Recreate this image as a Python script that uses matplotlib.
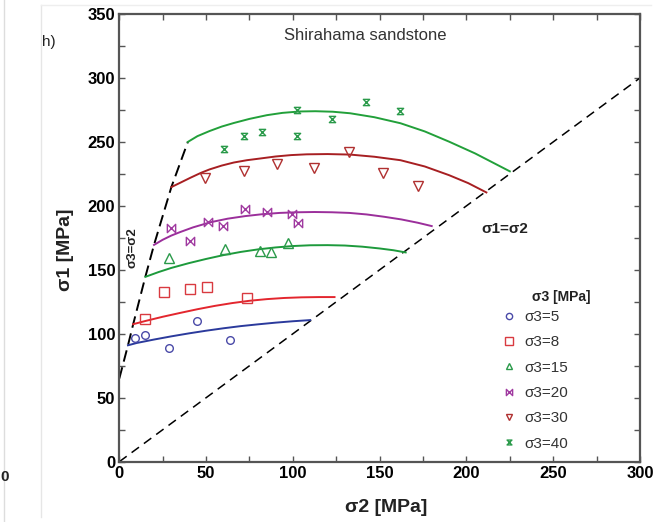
import matplotlib
matplotlib.use("Agg")
import matplotlib.pyplot as plt
from matplotlib.lines import Line2D
from matplotlib.path import Path

plt.rcParams['font.family'] = ['Liberation Sans', 'DejaVu Sans']

# ---------------- data ----------------
sigma3_labels = ["σ3=5", "σ3=8", "σ3=15", "σ3=20", "σ3=30", "σ3=40"]

# measured points (sigma2, sigma1)
pts5_x = [9.0, 14.8, 28.8, 44.8, 63.6]
pts5_y = [96.6, 98.8, 88.6, 109.9, 94.8]
pts8_x = [14.9, 25.9, 40.7, 50.7, 73.6]
pts8_y = [111.2, 132.3, 135.2, 136.5, 127.6]
pts15_x = [28.8, 60.9, 81.1, 87.2, 97.1]
pts15_y = [159.1, 166.2, 164.8, 163.6, 170.6]
pts20_x = [29.8, 40.7, 50.9, 60.0, 72.2, 85.1, 99.7, 103.2]
pts20_y = [182.8, 172.4, 187.3, 184.4, 197.7, 195.1, 193.5, 186.5]
pts30_x = [49.1, 71.9, 90.9, 112.0, 132.2, 151.8, 171.9]
pts30_y = [221.9, 227.1, 232.8, 229.7, 242.2, 225.8, 215.4]
pts40_x = [60.1, 71.9, 82.2, 102.4, 102.4, 122.8, 142.0, 161.8]
pts40_y = [244.3, 254.7, 257.6, 255.0, 274.8, 267.6, 281.0, 274.2]

# fitted curves (sigma2, sigma1)
c5_x = [5, 10, 20, 30, 40, 50, 60, 70, 80, 90, 100, 110]
c5_y = [91, 92.8, 95.5, 98, 100.3, 102.4, 104.3, 106, 107.4, 108.7, 109.8, 110.7]
c8_x = [8, 15, 25, 35, 45, 55, 65, 75, 85, 95, 105, 115, 124]
c8_y = [107.5, 110, 113.3, 116.3, 119.2, 121.8, 124, 125.8, 127.1, 128, 128.5, 128.7, 128.7]
c15_x = [15, 22.5, 30, 40, 50, 60, 70, 80, 90, 100, 110, 120, 130, 140, 150, 158, 165]
c15_y = [144.5, 148.2, 151.5, 155.2, 158.5, 161.5, 164, 166, 167.5, 168.6, 169.2, 169.3,
         169, 168.1, 166.7, 165.3, 163.6]
c20_x = [20, 25, 30, 35, 42.5, 52.5, 62.5, 72.5, 82.5, 92.5, 102.5, 112.5, 122.5,
         132.5, 142.5, 152.5, 162.5, 172, 180]
c20_y = [169.5, 173.5, 176.8, 179.5, 183.2, 187.2, 190, 192, 193.5, 194.5, 195, 195.2,
         195, 194.5, 193.3, 191.5, 189.4, 186.8, 184.2]
c30_x = [30, 35, 41, 47, 52, 59, 66, 73.5, 81, 90, 99, 108, 120, 133, 147, 162, 176,
         190, 201, 211.5]
c30_y = [214.7, 218, 222, 225.8, 228.5, 231.5, 233.9, 235.7, 237, 238.6, 239.7, 240.3,
         240.5, 240.1, 238.4, 235.7, 230.8, 224, 217.8, 210.5]
c40_x = [39.5, 45, 52, 59, 66, 75, 85, 94, 104, 113, 123, 133, 147, 162, 176, 190,
         205, 215, 225]
c40_y = [250, 254.5, 258.5, 262, 264.8, 268, 270.9, 272.7, 273.8, 274, 273.6, 272.4,
         269.3, 264.6, 258.2, 250.2, 241, 234, 227]

# sigma3 = sigma2 boundary
s32_x = [0, 5, 8, 15, 20, 30, 39.5]
s32_y = [65, 91, 107.5, 144.5, 169.5, 214.7, 250]
# sigma1 = sigma2 boundary
s12_x = [0, 300]
s12_y = [0, 300]

# ---------------- styling ----------------
col5 = '#2b3a9c'
col8 = '#e3262e'
col15 = '#1d9a3c'
col20 = '#9b2f9b'
col30 = '#a71f22'
col40 = '#22a03a'
mcol5 = '#4a4aa8'
mcol8 = '#d93a40'
mcol15 = '#2a9a4a'
mcol20 = '#a03aa0'
mcol30 = '#b03030'
mcol40 = '#2a9a4a'

bowtie = Path([(-1, -1), (-1, 1), (1, -1), (1, 1), (-1, -1)],
              [Path.MOVETO, Path.LINETO, Path.LINETO, Path.LINETO, Path.CLOSEPOLY])
hourglass = Path([(-1, 1), (1, 1), (-1, -1), (1, -1), (-1, 1)],
                 [Path.MOVETO, Path.LINETO, Path.LINETO, Path.LINETO, Path.CLOSEPOLY])

W, H = 661, 522
fig = plt.figure(figsize=(W / 100, H / 100), dpi=100)
x0, x1, ytop, ybot = 119.3, 640.0, 14.0, 461.7
ax = fig.add_axes([x0 / W, 1 - ybot / H, (x1 - x0) / W, (ybot - ytop) / H])

# boundaries
ax.plot(s12_x, s12_y, color='black', lw=1.1, dashes=(6, 4))
ax.plot(s32_x, s32_y, color='black', lw=1.4, dashes=(6, 3))

# curves
ax.plot(c5_x, c5_y, color=col5, lw=1.4)
ax.plot(c8_x, c8_y, color=col8, lw=1.4)
ax.plot(c15_x, c15_y, color=col15, lw=1.4)
ax.plot(c20_x, c20_y, color=col20, lw=1.4)
ax.plot(c30_x, c30_y, color=col30, lw=1.4)
ax.plot(c40_x, c40_y, color=col40, lw=1.4)

# points
ms = dict(linestyle='none', markerfacecolor='none', markeredgewidth=1.0)
ax.plot(pts5_x, pts5_y, marker='o', markersize=5.5, markeredgecolor=mcol5, **ms)
ax.plot(pts8_x, pts8_y, marker='s', markersize=6.5, markeredgecolor=mcol8, **ms)
ax.plot(pts15_x, pts15_y, marker='^', markersize=6.5, markeredgecolor=mcol15, **ms)
ax.plot(pts20_x, pts20_y, marker=bowtie, markersize=6, markeredgecolor=mcol20, **ms)
ax.plot(pts30_x, pts30_y, marker='v', markersize=6.5, markeredgecolor=mcol30, **ms)
ax.plot(pts40_x, pts40_y, marker=hourglass, markersize=4.5, markeredgecolor=mcol40, **ms)

# axes
ax.set_xlim(0, 300)
ax.set_ylim(0, 350)
ax.set_xticks(range(0, 301, 50))
ax.set_yticks(range(0, 351, 50))
ax.set_xticks(range(25, 300, 50), minor=True)
ax.set_yticks(range(25, 350, 50), minor=True)
ax.tick_params(which='both', direction='in', top=True, right=True, length=4,
               width=1.0, color='#555555')
ax.tick_params(which='major', labelsize=12, pad=3)
for lab in ax.get_xticklabels() + ax.get_yticklabels():
    lab.set_fontweight('bold')
for s in ax.spines.values():
    s.set_color('#555555')
    s.set_linewidth(1.6)

# texts
ax.text(141.6, 333, 'Shirahama sandstone', fontsize=12, color='#333333',
        ha='center', va='center')
ax.text(7.5, 167.7, 'σ3=σ2', fontsize=9.5, fontweight='bold', rotation=90,
        ha='center', va='center', color='#222222')
ax.text(222, 182, 'σ1=σ2', fontsize=11, fontweight='bold',
        ha='center', va='center', color='#222222')

# legend
handles = [
    Line2D([], [], marker='o', markersize=4.5, markeredgecolor=mcol5, **ms),
    Line2D([], [], marker='s', markersize=6, markeredgecolor=mcol8, **ms),
    Line2D([], [], marker='^', markersize=5, markeredgecolor=mcol15, **ms),
    Line2D([], [], marker=bowtie, markersize=4.5, markeredgecolor=mcol20, **ms),
    Line2D([], [], marker='v', markersize=5, markeredgecolor=mcol30, **ms),
    Line2D([], [], marker=hourglass, markersize=3.5, markeredgecolor=mcol40, **ms),
]
leg = ax.legend(handles, sigma3_labels, loc='upper left',
                bbox_to_anchor=((501 - x0) / (x1 - x0), (ybot - 310) / (ybot - ytop)),
                frameon=False, fontsize=11, handlelength=1.0, handletextpad=0.5,
                labelspacing=0.74, borderpad=0, borderaxespad=0)
for t in leg.get_texts():
    t.set_color('#333333')
ax.text((561 - x0) / (x1 - x0), (ybot - 296.7) / (ybot - ytop), 'σ3 [MPa]',
        transform=ax.transAxes, fontsize=10, fontweight='bold', ha='center',
        va='center', color='#222222')

# axis labels
fig.text(386 / W, 1 - 507 / H, 'σ2 [MPa]', fontsize=14, fontweight='bold',
         ha='center', va='center', color='#222222')
fig.text(65 / W, 1 - 250 / H, 'σ1 [MPa]', fontsize=14, fontweight='bold',
         rotation=90, ha='center', va='center', color='#222222')

# panel decorations
fig.text(49 / W, 1 - 42 / H, 'h)', fontsize=11, ha='center', va='center', color='#222222')
fig.text(0.5 / W, 1 - 477 / H, '0', fontsize=11, fontweight='bold', ha='left',
         va='center', color='#222222')
fig.add_artist(Line2D([4 / W, 4 / W], [0, 1], color='#dddddd', lw=1))
fig.add_artist(Line2D([41 / W, 41 / W], [1 - 517 / H, 1 - 5 / H], color='#e6e6e6', lw=1))
fig.add_artist(Line2D([41 / W, 651 / W], [1 - 5 / H, 1 - 5 / H], color='#eeeeee', lw=1))

fig.savefig('out.png', dpi=100)
